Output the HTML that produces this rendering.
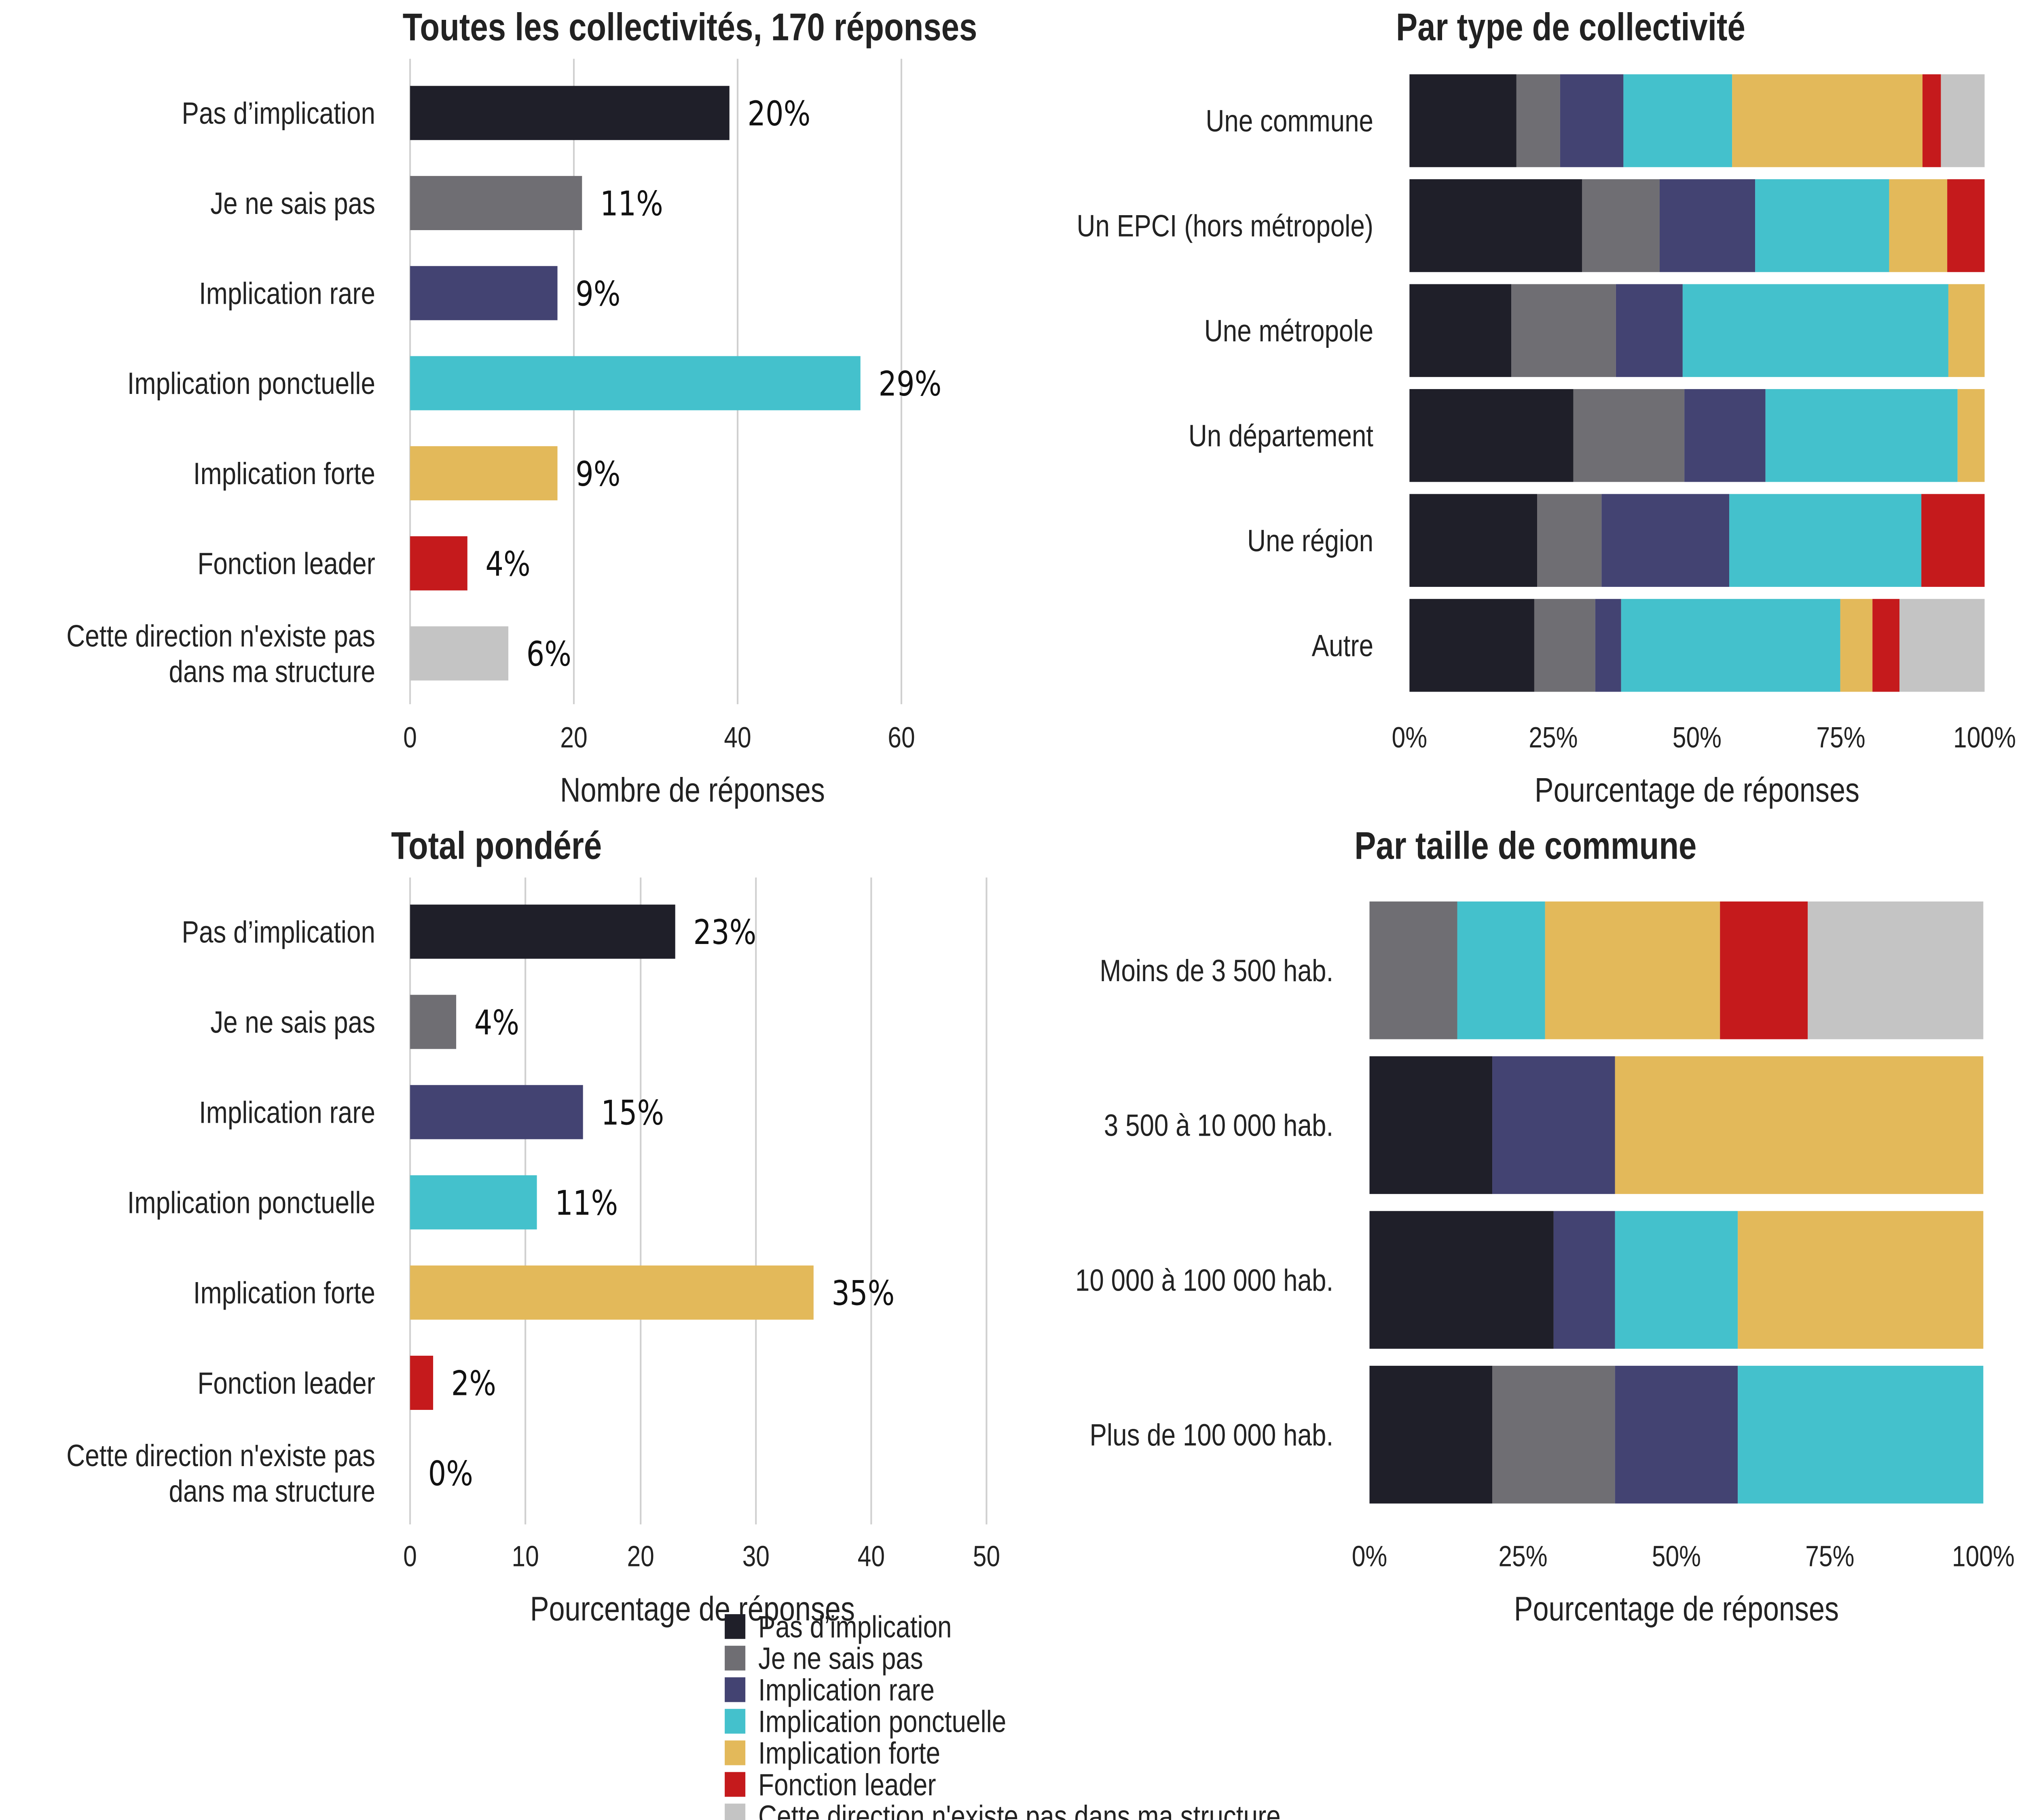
<!DOCTYPE html>
<html><head><meta charset="utf-8"><style>
html,body{margin:0;padding:0;background:#fff;width:100%;height:100%;overflow:hidden}
svg{display:block;position:fixed;left:0;top:0;width:100vw;height:100vh}
text{font-family:"Liberation Sans",sans-serif;fill:#222}
.pct{font-family:"DejaVu Sans","Liberation Sans",sans-serif;fill:#111}
</style></head><body>
<svg id="chart" viewBox="0 0 1568 1176" preserveAspectRatio="none" xmlns="http://www.w3.org/2000/svg"></svg>
<script>
const colors=["#1f1f29","#6f6e73","#434372","#44c1cc","#e3b95a","#c51a1c","#c4c4c4"];
const seriesNames=["Pas d’implication","Je ne sais pas","Implication rare","Implication ponctuelle","Implication forte","Fonction leader","Cette direction n'existe pas dans ma structure"];
const catLabels1=[["Pas d’implication"],["Je ne sais pas"],["Implication rare"],["Implication ponctuelle"],["Implication forte"],["Fonction leader"],["Cette direction n'existe pas","dans ma structure"]];
const counts1=[39,21,18,55,18,7,12];
const pctLabels1=["20%","11%","9%","29%","9%","4%","6%"];
const ticks1=[0,20,40,60];
const weighted3=[23,4,15,11,35,2,0];
const pctLabels3=["23%","4%","15%","11%","35%","2%","0%"];
const ticks3=[0,10,20,30,40,50];
const types2=["Une commune","Un EPCI (hors métropole)","Une métropole","Un département","Une région","Autre"];
const shares2=[
 [18.6,7.6,11.0,18.9,33.1,3.2,7.6],
 [30.0,13.5,16.6,23.3,10.1,6.5,0],
 [17.7,18.2,11.6,46.2,6.3,0,0],
 [28.5,19.3,14.1,33.4,4.7,0,0],
 [22.2,11.2,22.2,33.4,0,11.0,0],
 [21.7,10.6,4.5,38.1,5.6,4.7,14.8]];
const sizes4=["Moins de 3 500 hab.","3 500 à 10 000 hab.","10 000 à 100 000 hab.","Plus de 100 000 hab."];
const shares4=[
 [0,14.3,0,14.3,28.5,14.3,28.6],
 [20,0,20,0,60,0,0],
 [30,0,10,20,40,0,0],
 [20,20,20,40,0,0,0]];
const pctTicks=["0%","25%","50%","75%","100%"];

const svg=document.getElementById('chart');
const NS="http://www.w3.org/2000/svg";
function el(t,a,txt){const e=document.createElementNS(NS,t);for(const k in a)e.setAttribute(k,a[k]);if(txt!==undefined)e.textContent=txt;svg.appendChild(e);return e;}

function barPanel(x0,pxPer,ticks,vals,labels,yFirst,step,gTop,gBot,tickY,titleTxt,titleX,titleY,axisTitle,axisX,axisY,name){
  const sx=v=>x0+v*pxPer;
  ticks.forEach(t=>{
    const g=el('line',{x1:sx(t),x2:sx(t),y1:gTop,y2:gBot,stroke:"#d0d0d0","stroke-width":1.3});
    
    
    const tl=el('text',{x:sx(t),y:tickY,"font-size":19,"text-anchor":"middle"},t);
    
    
  });
  vals.forEach((v,i)=>{
    const cy=yFirst+i*step;
    const r=el('rect',{x:x0,y:cy-17.5,width:Math.max(0,sx(v)-x0),height:35,fill:colors[i]});
    
    
    const p=el('text',{x:sx(v)+14,y:cy+8,"font-size":22,class:"pct"},labels[i]);
    
    
    const lines=catLabels1[i];
    lines.forEach((ln,j)=>{
      const yy=cy+7+(j-(lines.length-1)/2)*23;
      const c=el('text',{x:x0-27,y:yy,"font-size":20,"text-anchor":"end"},ln);
      
      
    });
  });
  const t=el('text',{x:titleX,y:titleY,"font-size":25,"font-weight":"bold","text-anchor":"middle"},titleTxt);
  
  
  const a=el('text',{x:axisX,y:axisY,"font-size":22,"text-anchor":"middle"},axisTitle);
  
  
}
barPanel(318,6.35,ticks1,counts1,pctLabels1,73,58.2,38,455,483,"Toutes les collectivités, 170 réponses",535,26,"Nombre de réponses",537,518,"panel-all");
barPanel(318,8.94,ticks3,weighted3,pctLabels3,602,58.3,567,985,1012,"Total pondéré",385,555,"Pourcentage de réponses",537,1047,"panel-weighted");

function stackPanel(x0,x1,cats,shares,yFirst,step,h,tickY,titleTxt,titleX,titleY,axisX,axisY,name){
  const sx=p=>x0+p/100*(x1-x0);
  cats.forEach((c,i)=>{
    const cy=yFirst+i*step;let acc=0;
    shares[i].forEach((s,k)=>{
      if(s>0){const r=el('rect',{x:sx(acc),y:cy-h/2,width:sx(acc+s)-sx(acc),height:h,fill:colors[k]});
      
      }
      acc+=s;
    });
    const l=el('text',{x:x0-28,y:cy+7,"font-size":20,"text-anchor":"end"},c);
    
    
  });
  pctTicks.forEach((t,i)=>{
    const tl=el('text',{x:sx(i*25),y:tickY,"font-size":19,"text-anchor":"middle"},t);
    
    
  });
  const t=el('text',{x:titleX,y:titleY,"font-size":25,"font-weight":"bold","text-anchor":"middle"},titleTxt);
  
  
  const a=el('text',{x:axisX,y:axisY,"font-size":22,"text-anchor":"middle"},"Pourcentage de réponses");
  
  
}
stackPanel(1093,1539,types2,shares2,78,67.8,60,483,"Par type de collectivité",1218,26,1316,518,"panel-type");
stackPanel(1062,1538,sizes4,shares4,627,100,89,1012,"Par taille de commune",1183,555,1300,1047,"panel-size");

seriesNames.forEach((n,i)=>{
  const y=1051+i*20.4;
  const r=el('rect',{x:562,y:y-8,width:16,height:16,fill:colors[i]});
  
  
  const t=el('text',{x:588,y:y+7,"font-size":20},n);
  
  
});
</script>
</body></html>
